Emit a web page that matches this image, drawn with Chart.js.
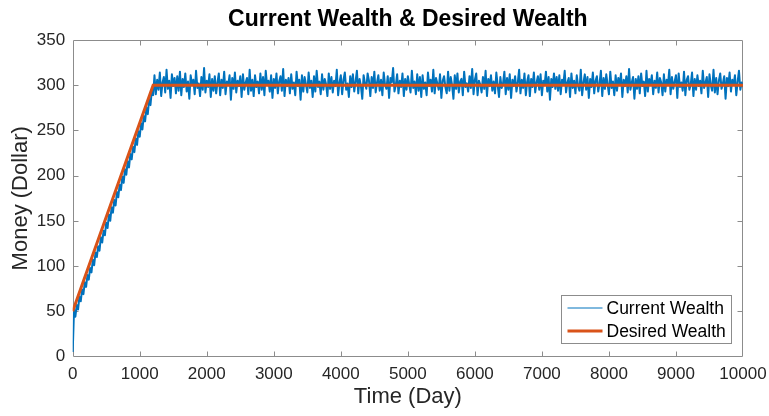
<!DOCTYPE html>
<html>
<head>
<meta charset="utf-8">
<script src="https://cdn.jsdelivr.net/npm/chart.js@4/dist/chart.umd.min.js"></script>
<style>
  html, body { margin: 0; padding: 0; background: #fff; }
  #wrap { width: 769px; height: 416px; }
</style>
</head>
<body>
<div id="wrap"><canvas id="wealthChart" width="769" height="416"></canvas></div>
<script>
// tick labels
const xTicks = [0, 1000, 2000, 3000, 4000, 5000, 6000, 7000, 8000, 9000, 10000];
const yTicks = [0, 50, 100, 150, 200, 250, 300, 350];

// desired wealth: ramp then flat
const desiredDays = [0, 1200, 10000];
const desiredWealth = [50, 300, 300];

// current wealth, one reading every 20 days
const sampleEvery = 20;
const rampWealth = [
  5, 52, 44, 57, 52, 66, 61, 74, 69, 82, 77, 90, 85, 98, 93, 107, 101, 115, 110, 122,
  117, 132, 126, 139, 134, 148, 142, 157, 150, 165, 159, 173, 167, 182, 176, 190, 184, 199, 192, 207,
  201, 216, 209, 224, 218, 232, 226, 241, 234, 249, 243, 258, 251, 266, 260, 275, 268, 284, 278, 294,
  289
];
const flatWealth = [
  311,290,306,295,314,288,303,309,292,317,296,305,286,312,299,308,291,310,294,315,
  289,307,298,313,293,304,285,311,300,306,290,316,297,302,288,309,295,319,292,305,
  298,312,287,307,294,310,291,303,313,289,306,297,315,290,304,300,311,284,308,296,
  314,292,305,299,310,287,312,295,303,308,290,317,294,306,288,311,298,304,291,313,
  295,309,289,316,300,305,293,311,286,307,297,313,291,304,310,294,318,288,306,299,
  308,291,312,296,303,289,315,299,306,284,311,293,309,301,292,314,297,305,287,310,
  293,316,298,304,290,312,295,307,301,288,313,296,309,292,305,299,317,289,303,311,
  290,306,314,295,302,287,310,298,312,293,304,316,291,307,299,285,311,302,296,313,
  305,288,309,297,315,292,303,311,294,306,289,314,300,296,310,286,308,303,319,293,
  300,312,291,305,298,313,288,307,295,310,301,292,316,297,304,290,312,294,309,287,
  311,296,303,289,314,299,306,293,317,291,308,302,295,312,286,305,310,298,291,315,
  294,309,300,285,311,296,313,292,304,307,289,315,298,302,293,310,297,318,290,306,
  313,289,305,301,292,309,296,316,288,307,299,311,294,304,291,314,300,287,309,297,
  302,315,290,308,295,312,286,306,299,310,293,303,317,291,306,297,313,289,304,311,
  288,307,298,314,292,303,310,295,312,289,305,300,315,293,309,284,307,298,313,296,
  309,294,311,290,306,301,316,292,303,308,287,313,297,305,291,311,299,294,317,289,
  303,312,295,309,286,307,298,314,291,305,310,293,302,316,288,308,296,312,301,290,
  315,297,304,289,311,294,308,300,313,287,306,299,310,292,318,295,303,309,285,307,
  296,310,291,313,299,304,288,316,293,307,301,311,290,305,297,314,292,308,303,289,
  312,293,306,300,317,290,309,296,304,311,286,313,298,303,294,315,289,306,310,295,
  301,314,288,307,295,311,299,305,291,316,297,303,309,287,312,300,294,317,292,308,
  290,305,313,296,302,310,285,308,299,314,293,306,301,311,289,304,316,295,303,298
];
const currentWealth = rampWealth.concat(flatWealth);

const currentPoints = currentWealth.map((v, i) => ({ x: i * sampleEvery, y: v }));
const desiredPoints = desiredDays.map((d, i) => ({ x: d, y: desiredWealth[i] }));

const FONT = '"Liberation Sans", Arial, Helvetica, sans-serif';
const AXIS_GRAY = '#8c8c8c';
const TEXT = '#262626';

// box round the plot with inward ticks, MATLAB style
const matlabAxes = {
  id: 'matlabAxes',
  beforeDatasetsDraw(chart) {
    const { ctx, chartArea: a, scales: { x, y } } = chart;
    const L = Math.round(a.left) + 0.5, R = Math.round(a.right) - 0.5;
    const T = Math.round(a.top) + 0.5, B = Math.round(a.bottom) - 0.5;
    ctx.save();
    ctx.strokeStyle = AXIS_GRAY;
    ctx.lineWidth = 1;
    ctx.beginPath();
    ctx.rect(L, T, R - L, B - T);
    const len = 5;
    x.ticks.forEach(t => {
      const px = Math.round(x.getPixelForValue(t.value)) + 0.5;
      if (px <= L + 1 || px >= R - 1) return;
      ctx.moveTo(px, B); ctx.lineTo(px, B - len);
      ctx.moveTo(px, T); ctx.lineTo(px, T + len);
    });
    y.ticks.forEach(t => {
      const py = Math.round(y.getPixelForValue(t.value)) + 0.5;
      if (py <= T + 1 || py >= B - 1) return;
      ctx.moveTo(L, py); ctx.lineTo(L + len, py);
      ctx.moveTo(R, py); ctx.lineTo(R - len, py);
    });
    ctx.stroke();
    ctx.restore();
  }
};

// legend drawn inside the lower right corner
const legendLineWidths = [1, 3];
const cornerLegend = {
  id: 'cornerLegend',
  afterDraw(chart) {
    const { ctx, chartArea: a } = chart;
    const w = 170, h = 48;
    const x0 = Math.round(a.right - 12 - w) + 0.5;
    const y0 = Math.round(a.bottom - 14 - h) + 0.5;
    ctx.save();
    ctx.fillStyle = '#fff';
    ctx.fillRect(x0, y0, w, h);
    ctx.strokeStyle = AXIS_GRAY;
    ctx.lineWidth = 1;
    ctx.strokeRect(x0, y0, w, h);
    ctx.font = '17.5px ' + FONT;
    ctx.textBaseline = 'middle';
    ctx.textAlign = 'left';
    chart.data.datasets.forEach((ds, i) => {
      const ry = Math.round(y0 + 12 + i * 23);
      ctx.strokeStyle = ds.borderColor;
      ctx.lineWidth = legendLineWidths[i];
      ctx.beginPath();
      ctx.moveTo(x0 + 6, ry);
      ctx.lineTo(x0 + 41, ry);
      ctx.stroke();
      ctx.fillStyle = '#000';
      ctx.fillText(ds.label, x0 + 45, ry + 1);
    });
    ctx.restore();
  }
};

new Chart(document.getElementById('wealthChart'), {
  type: 'line',
  data: {
    datasets: [
      {
        label: 'Current Wealth',
        data: currentPoints,
        borderColor: '#0072BD',
        borderWidth: 2,
        borderJoinStyle: 'round',
        pointRadius: 0,
        // tiny tension keeps every zigzag (no pixel-column fast path)
        tension: 0.001,
        order: 2
      },
      {
        label: 'Desired Wealth',
        data: desiredPoints,
        borderColor: '#D95319',
        borderWidth: 3,
        pointRadius: 0,
        tension: 0,
        order: 1
      }
    ]
  },
  options: {
    responsive: false,
    animation: false,
    parsing: false,
    layout: { padding: { left: 0, right: 26, top: 0, bottom: 0 } },
    plugins: {
      legend: { display: false },
      tooltip: { enabled: false },
      title: {
        display: true,
        fullSize: false,
        text: 'Current Wealth & Desired Wealth',
        color: '#000',
        font: { family: FONT, size: 23, weight: 'bold' },
        padding: { top: 6, bottom: 6.4 }
      }
    },
    scales: {
      x: {
        type: 'linear',
        min: 0,
        max: 10000,
        afterBuildTicks: s => { s.ticks = xTicks.map(v => ({ value: v })); },
        ticks: {
          color: TEXT,
          font: { family: FONT, size: 17 },
          padding: 7.5,
          maxRotation: 0,
          callback: v => String(v)
        },
        grid: { display: false, drawTicks: false },
        border: { display: false },
        title: {
          display: true,
          text: 'Time (Day)',
          color: TEXT,
          font: { family: FONT, size: 22 },
          padding: { top: 0, bottom: 6 }
        },
        afterFit: s => { s.height = 59.5; s.paddingLeft = 0; s.paddingRight = 0; }
      },
      y: {
        min: 0,
        max: 350,
        afterBuildTicks: s => { s.ticks = yTicks.map(v => ({ value: v })); },
        ticks: {
          color: TEXT,
          font: { family: FONT, size: 17 },
          padding: 7.5,
          callback: v => String(v)
        },
        grid: { display: false, drawTicks: false },
        border: { display: false },
        title: {
          display: true,
          text: 'Money (Dollar)',
          color: TEXT,
          font: { family: FONT, size: 22 },
          padding: { top: 8, bottom: 0 }
        },
        afterFit: s => { s.width = 72.7; }
      }
    }
  },
  plugins: [matlabAxes, cornerLegend]
});
</script>
</body>
</html>
